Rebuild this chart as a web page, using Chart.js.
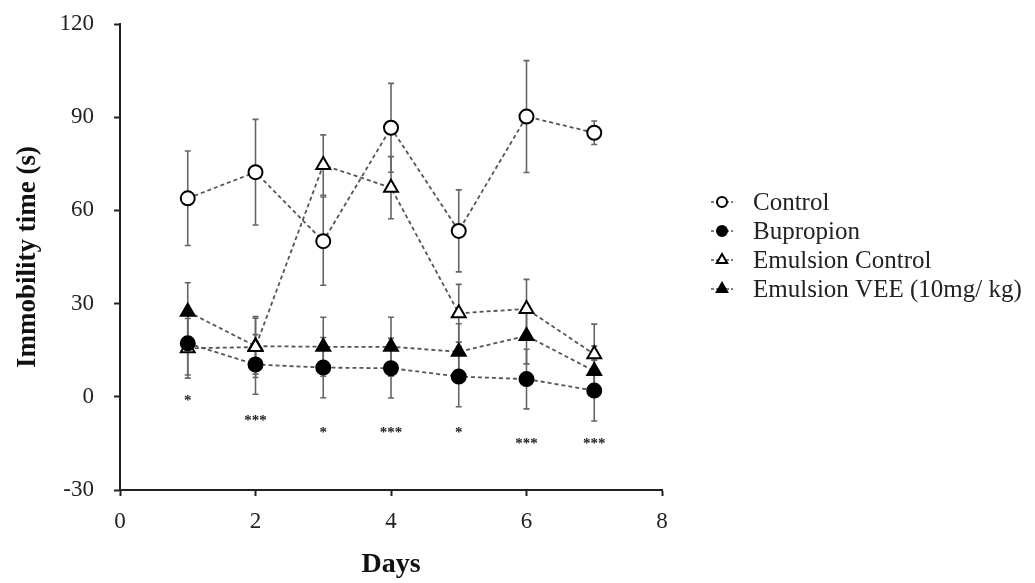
<!DOCTYPE html>
<html lang="en">
<head>
  <meta charset="UTF-8" />
  <title>Immobility time over days</title>
  <script src="https://cdn.jsdelivr.net/npm/chart.js"></script>
  <style>
    html, body { margin: 0; padding: 0; background: #fff; }
  </style>
</head>
<body>
<canvas id="chart" width="1035" height="583"></canvas>

<script>
// ---- data ----
const days = [1, 2, 3, 4, 5, 6, 7];
const seriesNames = ["Control", "Bupropion", "Emulsion Control", "Emulsion VEE (10mg/ kg)"];

const controlMean  = [63.9, 72.3, 50.1, 86.6, 53.4, 90.2, 85.0];
const controlErr   = [15.2, 17.0, 14.2, 14.3, 13.2, 18.0, 3.8];
const bupropionMean = [17.2, 10.4, 9.4, 9.2, 6.5, 5.7, 2.0];
const bupropionErr  = [10.2, 9.6, 9.7, 9.6, 9.7, 9.6, 9.8];
const emulsionMean = [15.6, 16.0, 74.6, 67.3, 26.9, 28.3, 13.7];
const emulsionErr  = [9.6, 9.8, 9.7, 10.0, 9.3, 9.5, 9.7];
const veeMean = [27.4, 16.3, 16.1, 16.1, 14.5, 19.6, 8.3];
const veeErr  = [9.3, 9.0, 9.5, 9.5, 9.0, 9.0, 8.0];

const sigMarks = ["*", "***", "*", "***", "*", "***", "***"];
const sigLevel = [-0.7, -7.2, -11.2, -11.2, -11.2, -14.5, -14.5];

const xTicks = [0, 2, 4, 6, 8];
const yTicks = [-30, 0, 30, 60, 90, 120];

const FONT = "'Liberation Serif', 'Times New Roman', serif";

function pts(vals) {
  return days.map((d, i) => ({ x: d, y: vals[i] }));
}

function makeSet(label, vals, errs, style, filled) {
  return {
    label: label,
    data: pts(vals),
    errors: errs,
    showLine: true,
    borderColor: "#555",
    borderWidth: 1.8,
    borderDash: [4, 3],
    pointStyle: style,
    pointRadius: style === "triangle" ? 8 : 7,
    pointBorderWidth: 2,
    pointBorderColor: "#000",
    pointBackgroundColor: filled ? "#000" : "#fff"
  };
}

const datasets = [
  makeSet(seriesNames[0], controlMean, controlErr, "circle", false),
  makeSet(seriesNames[1], bupropionMean, bupropionErr, "circle", true),
  makeSet(seriesNames[2], emulsionMean, emulsionErr, "triangle", false),
  makeSet(seriesNames[3], veeMean, veeErr, "triangle", true)
];

// error bars under the markers
const errorBars = {
  id: "errorBars",
  beforeDatasetsDraw(chart) {
    const ctx = chart.ctx;
    const y = chart.scales.y;
    ctx.save();
    ctx.strokeStyle = "#666";
    ctx.lineWidth = 1.6;
    chart.data.datasets.forEach((ds, di) => {
      const meta = chart.getDatasetMeta(di);
      meta.data.forEach((p, i) => {
        const v = ds.data[i].y, e = ds.errors[i];
        const top = y.getPixelForValue(v + e);
        const bot = y.getPixelForValue(v - e);
        ctx.beginPath();
        ctx.moveTo(p.x, top); ctx.lineTo(p.x, bot);
        ctx.moveTo(p.x - 3, top); ctx.lineTo(p.x + 3, top);
        ctx.moveTo(p.x - 3, bot); ctx.lineTo(p.x + 3, bot);
        ctx.stroke();
      });
    });
    ctx.restore();
  }
};

// significance stars below each day
const stars = {
  id: "stars",
  afterDatasetsDraw(chart) {
    const ctx = chart.ctx;
    const x = chart.scales.x, y = chart.scales.y;
    ctx.save();
    ctx.fillStyle = "#222";
    ctx.font = "bold 15px " + FONT;
    ctx.textAlign = "center";
    ctx.textBaseline = "middle";
    days.forEach((d, i) => {
      ctx.fillText(sigMarks[i], x.getPixelForValue(d), y.getPixelForValue(sigLevel[i]) + 2);
    });
    ctx.restore();
  }
};

// legend on the right, marker with a short dashed stub
const sideLegend = {
  id: "sideLegend",
  afterDraw(chart) {
    const ctx = chart.ctx;
    const x0 = 722, tx = 753, y0 = 202, step = 29;
    ctx.save();
    chart.data.datasets.forEach((ds, i) => {
      const cy = y0 + i * step;
      ctx.strokeStyle = "#555";
      ctx.lineWidth = 1.5;
      ctx.setLineDash([3, 2]);
      ctx.beginPath();
      ctx.moveTo(x0 - 11, cy); ctx.lineTo(x0 + 11, cy);
      ctx.stroke();
      ctx.setLineDash([]);
      ctx.fillStyle = ds.pointBackgroundColor;
      ctx.strokeStyle = "#000";
      ctx.lineWidth = 2;
      Chart.helpers.drawPoint(ctx, {
        pointStyle: ds.pointStyle,
        radius: ds.pointStyle === "triangle" ? 6 : 5,
        borderWidth: 2
      }, x0, cy);
      ctx.fillStyle = "#222";
      ctx.font = "25px " + FONT;
      ctx.textAlign = "left";
      ctx.textBaseline = "middle";
      ctx.fillText(ds.label, tx, cy + 1);
    });
    ctx.restore();
  }
};

new Chart(document.getElementById("chart"), {
  type: "scatter",
  data: { datasets: datasets },
  plugins: [errorBars, stars, sideLegend],
  options: {
    responsive: false,
    animation: false,
    layout: { padding: { top: 24, right: 373, left: 0, bottom: 0 } },
    plugins: {
      legend: { display: false },
      tooltip: { enabled: false }
    },
    scales: {
      x: {
        type: "linear",
        min: 0, max: 8,
        afterBuildTicks: s => { s.ticks = xTicks.map(v => ({ value: v })); },
        afterFit: s => { s.height = 93; s.paddingLeft = 0; s.paddingRight = 0; },
        grid: { drawOnChartArea: false, tickLength: 6, tickColor: "#222", tickWidth: 2 },
        border: { color: "#222", width: 2 },
        ticks: { color: "#222", font: { family: FONT, size: 23 }, padding: 12, maxRotation: 0 },
        title: { display: true, text: "Days", color: "#111", font: { family: FONT, size: 28, weight: "bold" }, padding: { top: 0, bottom: 1 } }
      },
      y: {
        type: "linear",
        min: -30, max: 120,
        afterBuildTicks: s => { s.ticks = yTicks.map(v => ({ value: v })); },
        afterFit: s => { s.width = 120; s.paddingTop = 0; s.paddingBottom = 0; },
        grid: { drawOnChartArea: false, tickLength: 6, tickColor: "#222", tickWidth: 2 },
        border: { color: "#222", width: 2 },
        ticks: { color: "#222", font: { family: FONT, size: 23 }, padding: 20 },
        title: { display: true, text: "Immobility time (s)", color: "#111", font: { family: FONT, size: 27, weight: "bold" }, padding: { top: 12, bottom: 0 } }
      }
    }
  }
});
</script>
</body>
</html>
